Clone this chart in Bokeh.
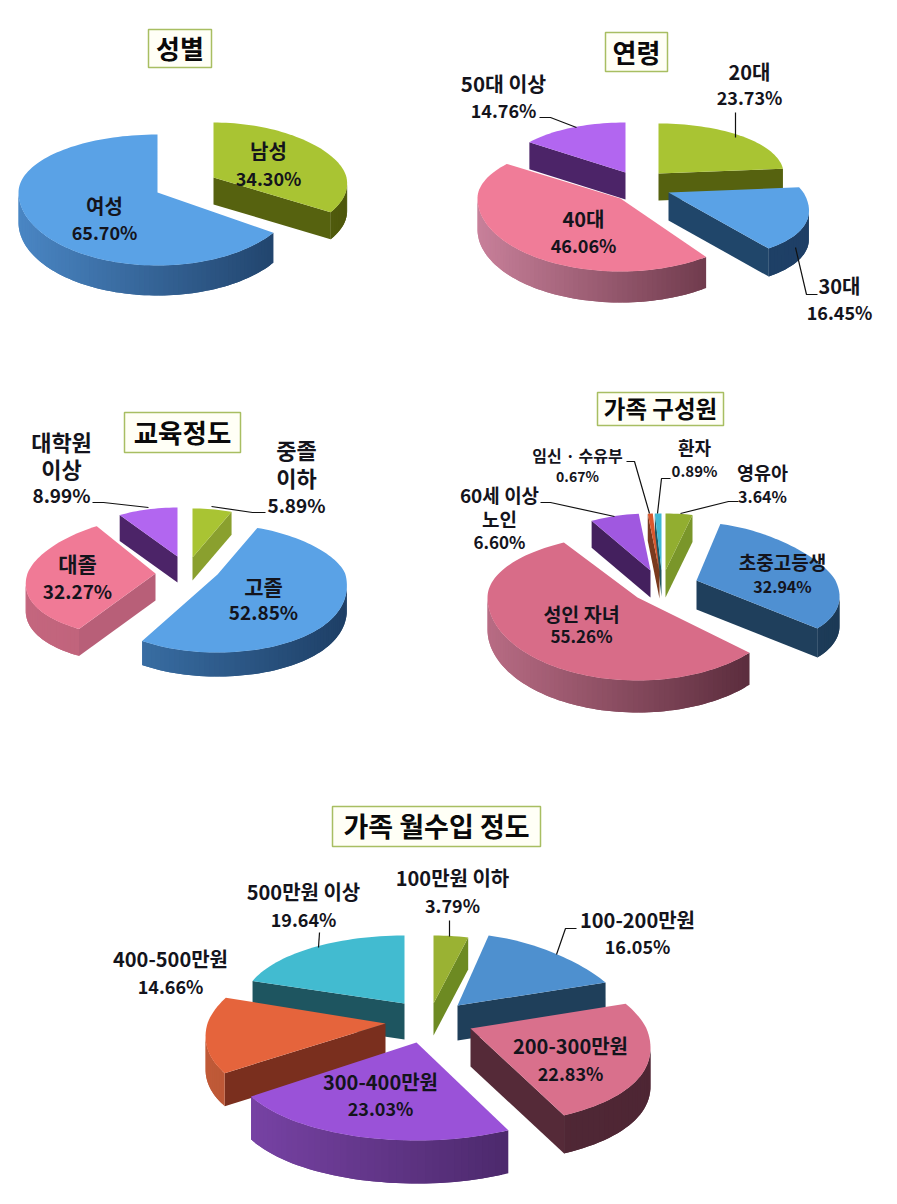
import numpy as np
from bokeh.plotting import figure
from bokeh.models import ColumnDataSource
from bokeh.core.properties import value
from bokeh.embed import file_html
from bokeh.resources import INLINE

FONT = "Noto Sans CJK KR"

# ---------- data ----------
gender_names = ["남성", "여성"]
gender_values = [34.30, 65.70]
age_names = ["20대", "30대", "40대", "50대 이상"]
age_values = [23.73, 16.45, 46.06, 14.76]
edu_names = ["중졸\n이하", "고졸", "대졸", "대학원\n이상"]
edu_values = [5.89, 52.85, 32.27, 8.99]
family_names = ["영유아", "초중고등생", "성인 자녀", "60세 이상\n노인", "임신 · 수유부", "환자"]
family_values = [3.64, 32.94, 55.26, 6.60, 0.67, 0.89]
income_names = ["100만원 이하", "100-200만원", "200-300만원", "300-400만원", "400-500만원", "500만원 이상"]
income_values = [3.79, 16.05, 22.83, 23.03, 14.66, 19.64]

# ---------- styles ----------
OLIVE = ("#A9C433", "#56620F", "#6E7A18", "#4E580C")
OLIVE2 = ("#A9C433", "#8AA02E", "#8AA02E", "#8AA02E")
OLIVE3 = ("#92AE30", "#7A962A", "#7A962A", "#7A962A")
BLUE = ("#5AA2E6", "#20466A", "#4A86C4", "#1E3F66")
BLUE2 = ("#4F90D2", "#1F3F5C", "#2A5478", "#1C3A56")
PINK = ("#F07C98", "#5C2B3B", "#C8809A", "#5A2A3A")
PINK2 = ("#F07A96", "#B85F78", "#C4667E", "#B25A74")
PINK3 = ("#D86C88", "#5A2A3C", "#B86C84", "#4E2433")
PURPLE = ("#B266F0", "#4C2468", "#4C2468", "#4C2468")
PURPLE2 = ("#A058E0", "#44205E", "#44205E", "#44205E")
ORANGE = ("#D9582E", "#7A3A1E", "#7A3A1E", "#7A3A1E")
CYAN = ("#40B8D4", "#1E5560", "#1E5560", "#1E5560")

# one row per slice: apex x, apex y, rx, r-up, r-down, perspective, depth, colours
PIES = [
    (gender_values, [
        (213, 177, 133, 55, 63, .10, 27, OLIVE),
        (157, 192, 139, 58, 73, .00, 30, BLUE)]),
    (age_values, [
        (658, 173, 125, 50, 60, .00, 27, OLIVE),
        (668, 192, 135, 55, 70, .30, 28, ("#5AA2E6", "#20466A", "#20466A", "#1E3F66")),
        (620, 198, 143, 57, 73, .00, 31, PINK),
        (625, 172, 121, 50, 60, .00, 27, PURPLE)]),
    (edu_values, [
        (192, 557, 108, 49, 60, .00, 23, OLIVE2),
        (217, 574, 128, 50, 78, .15, 24, ("#5AA2E6", "#2A5A8E", "#3F79B2", "#1E3F66")),
        (155, 573, 128, 56, 65, .17, 27, PINK2),
        (177, 556, 108, 49, 60, .00, 26, PURPLE)]),
    (family_values, [
        (665, 570, 119, 57, 70, .00, 27, OLIVE3),
        (696, 580, 139, 58, 72, .25, 29, BLUE2),
        (637, 597, 150, 63, 83, .00, 32, PINK3),
        (650, 570, 120, 57, 70, .00, 27, PURPLE2),
        (659, 571, 120, 58, 70, .00, 27, ORANGE),
        (661, 570, 120, 57, 70, .00, 26, CYAN)]),
    (income_values, [
        (433, 1003, 147, 68, 80, .00, 32, ("#9AB233", "#6D8A22", "#6D8A22", "#6D8A22")),
        (457, 1005, 168, 72, 90, .22, 35, ("#4E90CF", "#1F3F5A", "#1F3F5A", "#1F3F5A")),
        (470, 1028, 176, 78, 97, .22, 38, ("#D9708C", "#552A38", "#552A38", "#4E2634")),
        (416, 1042, 185, 90, 98, .13, 43, ("#9A52D8", "#3D2058", "#7A44A8", "#3D2058")),
        (385, 1023, 178, 78, 90, .15, 33, ("#E5643C", "#7A2F1E", "#C05A38", "#7A2F1E")),
        (404, 1003, 161, 68, 80, .00, 36, ("#42BBD0", "#1E5560", "#1E5560", "#1E5560"))]),
]


def mix(c1, c2, t):
    a = [int(c1[i:i + 2], 16) for i in (1, 3, 5)]
    b = [int(c2[i:i + 2], 16) for i in (1, 3, 5)]
    return "#%02x%02x%02x" % tuple(int(round(x + (y - x) * t)) for x, y in zip(a, b))


def slice_outline(a0, a1, g):
    ax, ay, rx, ru, rd, k = g[:6]
    th = np.radians(np.arange(a0, a1, 2.0).tolist() + [a1])
    xs = ax + rx * np.sin(th) * (1 - k * np.cos(th))
    ys = ay - np.where(np.cos(th) > 0, ru, rd) * np.cos(th)
    return [ax] + xs.tolist(), [ay] + ys.tolist()


px, py, pc = [], [], []
for vals, geos in PIES:
    edges = np.cumsum([0] + list(vals)) / sum(vals) * 360.0
    order = sorted(range(len(vals)), key=lambda i: geos[i][1])
    for i in order:
        g = geos[i]
        depth = g[6]
        top, cut, light, dark = g[7]
        xs, ys = slice_outline(edges[i], edges[i + 1], g)
        n = len(xs)
        # walls that face the viewer: edges running leftward on a clockwise outline
        for j in range(n):
            q = (j + 1) % n
            if xs[q] < xs[j]:
                if j == 0 or q == 0:
                    col = cut
                    e = q
                else:
                    t = ((xs[j] + xs[q]) / 2 - (g[0] - g[2])) / (2 * g[2])
                    col = mix(light, dark, float(np.clip(t, 0, 1)))
                    # overlap the next arc step so that no seam shows
                    e = q + 1 if q + 1 < n and xs[q + 1] < xs[q] else q
                px.append([xs[j], xs[q], xs[e], xs[e], xs[q], xs[j]])
                py.append([ys[j], ys[q], ys[e], ys[e] + depth, ys[q] + depth, ys[j] + depth])
                pc.append(col)
        px.append(xs)
        py.append(ys)
        pc.append(top)

p = figure(width=881, height=1188, x_range=(0, 881), y_range=(1188, 0),
           output_backend="svg", toolbar_location=None,
           x_axis_location=None, y_axis_location=None, min_border=0)
p.outline_line_color = None
p.grid.visible = False
p.background_fill_color = "white"

p.patches("xs", "ys", source=ColumnDataSource(dict(xs=px, ys=py, c=pc)),
          fill_color="c", line_color=None)

# ---------- leader lines ----------
leaders = [
    ([539, 550, 576], [117, 117, 127]), ([735, 735], [112, 137]),
    ([795, 806, 817], [247, 294, 294]),
    ([92, 103, 148], [502, 502, 507]), ([265, 252, 211], [512, 512, 506]),
    ([626, 634, 649], [461, 461, 513]), ([670, 661, 657], [478, 478, 513]),
    ([738, 728, 680], [501, 501, 513]), ([540, 550, 614], [502, 502, 516]),
    ([449, 449], [920, 936]), ([576, 565, 556], [928, 928, 954]),
    ([319, 318], [932, 947]),
]
p.multi_line([l[0] for l in leaders], [l[1] for l in leaders], line_color="#111111", line_width=1.2)

# ---------- title boxes ----------
titles = [
    ("성별", 148, 211, 29, 67, 26), ("연령", 605, 667, 32, 71, 26),
    ("교육정도", 124, 240, 412, 452, 26.5), ("가족 구성원", 597, 723, 392, 425, 23.5),
    ("가족 월수입 정도", 332, 540, 806, 846, 27),
]
for t, x0, x1, y0, y1, fs in titles:
    p.quad(left=[x0], right=[x1], top=[y0], bottom=[y1], fill_color="#FFFFF6",
           line_color="#A8BE62", line_width=1.5)
    p.text([(x0 + x1) / 2], [(y0 + y1) / 2 - 1], text=[t], text_font=value(FONT),
           text_font_size=f"{fs}px", text_font_style="bold", text_color="#0A0A0A",
           text_align="center", text_baseline="middle")


# ---------- labels: (names, values, [(x, y of first line, line gap, name px, value px)]) ----------
def labels(names, vals, spots):
    tx, ty, tt, ts = [], [], [], []
    for nm, v, (x, y, gap, fn, fv) in zip(names, vals, spots):
        lines = nm.split("\n")
        for k, line in enumerate(lines + [f"{v:.2f}%"]):
            tx.append(x)
            ty.append(y - 2 + k * gap)
            tt.append(line)
            ts.append(f"{fn if k < len(lines) else fv}px")
    p.text("x", "y", text="t", text_font_size="s",
           source=ColumnDataSource(dict(x=tx, y=ty, t=tt, s=ts)),
           text_font=value(FONT), text_font_style="bold", text_color="#14141C",
           text_align="center", text_baseline="middle")


labels(gender_names, gender_values, [(268, 152, 27, 20, 18), (104, 207, 26, 20, 18)])
labels(age_names, age_values, [(749, 73, 25, 20, 18), (839, 287, 26, 20, 18),
                               (583, 220, 26, 20, 18), (503, 84, 27, 20.5, 18)])
labels(edu_names, edu_values, [(296, 450, 28, 22, 19), (263, 587, 26, 21, 19),
                               (77, 564, 28, 21, 19), (61, 442, 27, 22, 19)])
labels(family_names, family_values, [(762, 473, 24, 18.5, 16), (782, 563, 24, 19, 16),
                                     (581, 615, 22, 19.5, 17), (499, 496, 23.5, 19, 17),
                                     (577, 456, 21, 16, 14), (694, 448, 24, 18, 15)])
labels(income_names, income_values, [(452, 879, 27, 20, 18), (637, 921, 26, 20, 18),
                                     (570, 1047, 27, 20, 18), (380, 1083, 26, 20, 18),
                                     (170, 960, 27, 20, 18), (303, 893, 27, 20, 18)])

open("out.html", "w").write(file_html(p, INLINE))
